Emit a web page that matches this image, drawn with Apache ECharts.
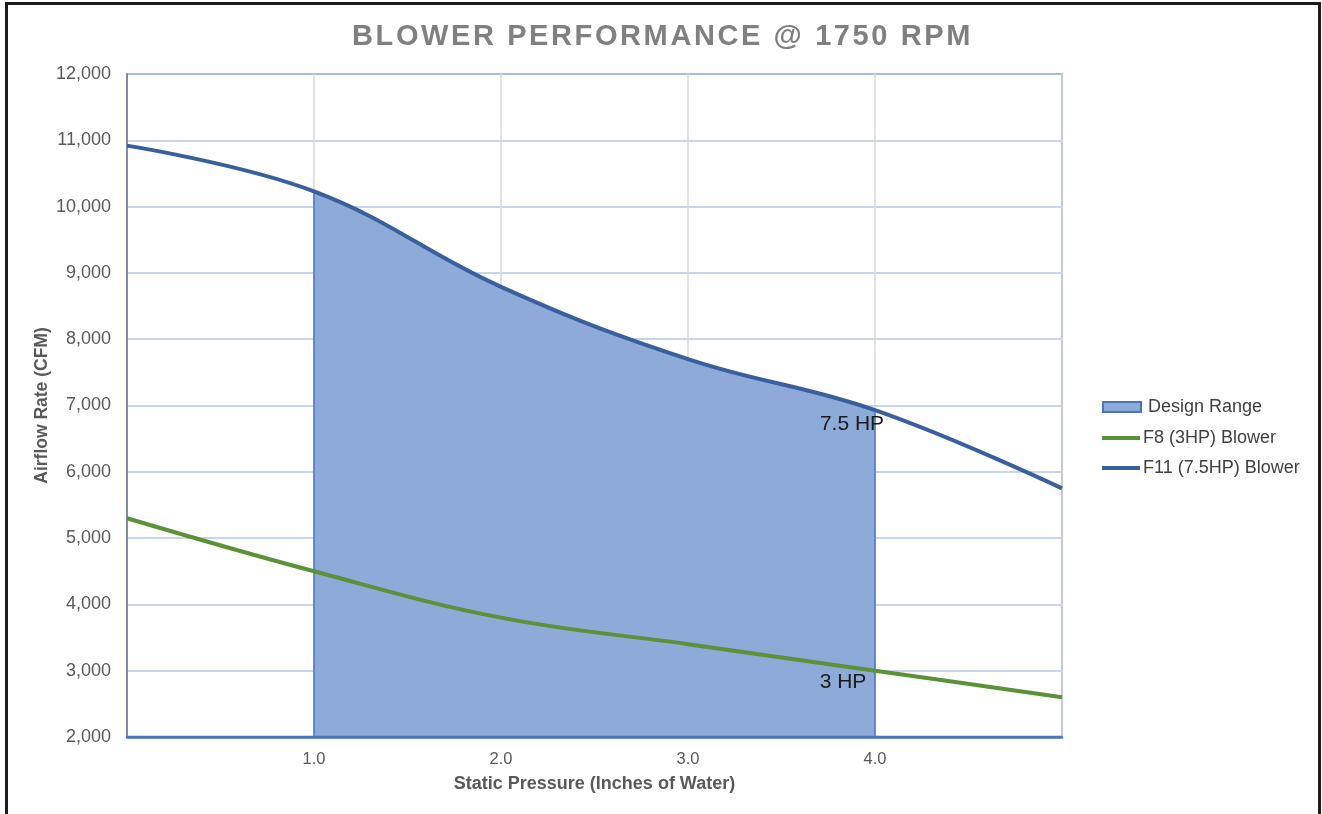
<!DOCTYPE html>
<html>
<head>
<meta charset="utf-8">
<script src="https://cdn.jsdelivr.net/npm/echarts@6/dist/echarts.min.js"></script>
<style>
  html, body { margin: 0; padding: 0; background: #fff; overflow: hidden; }
  #chart { position: absolute; left: 0; top: 0; width: 1322px; height: 814px; }
  #frame { position: absolute; left: 5px; top: 2px; width: 1310px; height: 830px; border: 3px solid #1c1c1c; pointer-events: none; }
  #title { position: absolute; left: 0; top: 21px; width: 1322px; text-align: center; padding-left: 3px; box-sizing: border-box;
           font-family: 'Liberation Sans', Arial, sans-serif; font-weight: bold; font-size: 29px; line-height: 1; letter-spacing: 2.6px; color: #808080; }
</style>
</head>
<body>
<div id="chart"></div>
<div id="title">BLOWER PERFORMANCE @ 1750 RPM</div>
<div id="frame"></div>
<script>
// Static pressure (inches of water)
const pressure = [0, 1, 2, 3, 4, 5];
// F8 (3HP) blower airflow (CFM)
const f8Cfm = [5300, 4500, 3800, 3400, 3000, 2600];
// F11 (7.5HP) blower airflow (CFM)
const f11Cfm = [10920, 10230, 8790, 7700, 6930, 5750];
// Design range limits (static pressure)
const designFrom = 1;
const designTo = 4;
const xMin = 0, xMax = 5;
const yMin = 2000, yMax = 12000;
const seriesNames = ['Design Range', 'F8 (3HP) Blower', 'F11 (7.5HP) Blower'];
const hpLabels = { f8: '3 HP', f11: '7.5 HP' };

const fill = '#8eaad8';
const edge = '#4a74bc';
const blue = '#3a5f9e';
const green = '#5b9137';
const font = 'Liberation Sans, Arial, sans-serif';

const f8Data = pressure.map((p, i) => [p, f8Cfm[i]]);
const f11Data = pressure.map((p, i) => [p, f11Cfm[i]]);
const iFrom = pressure.indexOf(designFrom);
const iTo = pressure.indexOf(designTo);

// main grid geometry
const gLeft = 127, gRight = 260, gTop = 74, gBottom = 77;
const gWidth = 1322 - gLeft - gRight;
const pxPerUnit = gWidth / (xMax - xMin);
// second grid covering exactly the design range (same scale), used to clip the area
const dLeft = gLeft + (designFrom - xMin) * pxPerUnit;
const dRight = 1322 - (gLeft + (designTo - xMin) * pxPerUnit);

const hpLabelStyle = { color: '#1a1a1a', fontSize: 21, fontFamily: font };

const chart = echarts.init(document.getElementById('chart'));
chart.setOption({
  animation: false,
  textStyle: { fontFamily: font },
  legend: [
    {
      orient: 'vertical', left: 1097, top: 393,
      itemWidth: 38, itemHeight: 10,
      icon: 'rect',
      data: [seriesNames[0]],
      textStyle: { color: '#404040', fontSize: 18, fontFamily: font, padding: [0, 0, 0, 2] }
    },
    {
      orient: 'vertical', left: 1097, top: 424,
      itemWidth: 38, itemHeight: 4,
      icon: 'rect',
      itemGap: 12,
      data: [seriesNames[1], seriesNames[2]],
      textStyle: { color: '#404040', fontSize: 18, fontFamily: font, padding: [0, 0, 0, -2] }
    }
  ],
  grid: [
    { left: gLeft, right: gRight, top: gTop, bottom: gBottom, show: true, borderColor: '#6b7a8a', borderWidth: 1.5, backgroundColor: 'transparent' },
    { left: dLeft, right: dRight, top: gTop, bottom: gBottom, show: false }
  ],
  xAxis: [
    {
      type: 'value', gridIndex: 0,
      min: xMin, max: xMax, interval: 1,
      name: 'Static Pressure (Inches of Water)',
      nameLocation: 'middle',
      nameGap: 38,
      nameMoveOverlap: false,
      nameTextStyle: { fontSize: 18, fontWeight: 'bold', color: '#595959', fontFamily: font },
      axisLine: { show: true, onZero: false, lineStyle: { color: '#4a74bc', width: 2.5 } },
      axisTick: { show: false },
      axisLabel: {
        color: '#595959', fontSize: 16.5, margin: 14, fontFamily: font,
        formatter: v => (v > xMin && v < xMax) ? v.toFixed(1) : ''
      },
      splitLine: { show: true, lineStyle: { color: '#d5d8e0', width: 1.5 } }
    },
    {
      type: 'value', gridIndex: 1, min: designFrom, max: designTo, show: false
    }
  ],
  yAxis: [
    {
      type: 'value', gridIndex: 0,
      min: yMin, max: yMax, interval: 1000,
      name: 'Airflow Rate (CFM)',
      nameLocation: 'middle',
      nameGap: 76,
      nameMoveOverlap: false,
      nameTextStyle: { fontSize: 17.5, fontWeight: 'bold', color: '#595959', fontFamily: font },
      axisLine: { show: true, lineStyle: { color: '#6b7a8a', width: 1.5 } },
      axisTick: { show: false },
      axisLabel: { color: '#595959', fontSize: 18, margin: 16, fontFamily: font, formatter: v => v.toLocaleString('en-US') },
      splitLine: { show: true, lineStyle: { color: '#b4c6e7', width: 1.5 } }
    },
    {
      type: 'value', gridIndex: 1, min: yMin, max: yMax, show: false
    }
  ],
  series: [
    {
      name: seriesNames[0],
      type: 'line',
      xAxisIndex: 1, yAxisIndex: 1,
      data: f11Data,
      smooth: 0.4,
      showSymbol: false,
      symbol: 'none',
      clip: true,
      color: fill,
      lineStyle: { width: 0, color: fill },
      areaStyle: { color: fill, opacity: 1, origin: 'start' },
      itemStyle: { color: fill, borderColor: edge, borderWidth: 1 },
      z: 1
    },
    {
      type: 'line',
      data: [[designFrom, yMin], [designFrom, f11Cfm[iFrom]]],
      symbol: 'none',
      lineStyle: { color: edge, width: 1.5 },
      z: 2, silent: true
    },
    {
      type: 'line',
      data: [[designTo, yMin], [designTo, f11Cfm[iTo]]],
      symbol: 'none',
      lineStyle: { color: edge, width: 1.5 },
      z: 2, silent: true
    },
    {
      type: 'line',
      data: [[xMin, yMin], [xMax, yMin]],
      symbol: 'none',
      lineStyle: { color: edge, width: 2.5 },
      z: 2, silent: true
    },
    {
      name: seriesNames[1],
      type: 'line',
      data: f8Data,
      smooth: 0.4,
      symbol: 'none',
      color: green,
      lineStyle: { color: green, width: 4 },
      markPoint: {
        symbol: 'circle', symbolSize: 0,
        data: [{ coord: [designTo, f8Cfm[iTo]], label: { show: true, formatter: hpLabels.f8, position: 'bottom', distance: 0, offset: [-32, 1], ...hpLabelStyle } }]
      },
      z: 3
    },
    {
      name: seriesNames[2],
      type: 'line',
      data: f11Data,
      smooth: 0.4,
      symbol: 'none',
      color: blue,
      lineStyle: { color: blue, width: 4 },
      markPoint: {
        symbol: 'circle', symbolSize: 0,
        data: [{ coord: [designTo, f11Cfm[iTo]], label: { show: true, formatter: hpLabels.f11, position: 'bottom', distance: 0, offset: [-23, 4], ...hpLabelStyle } }]
      },
      z: 4
    }
  ]
});
</script>
</body>
</html>
